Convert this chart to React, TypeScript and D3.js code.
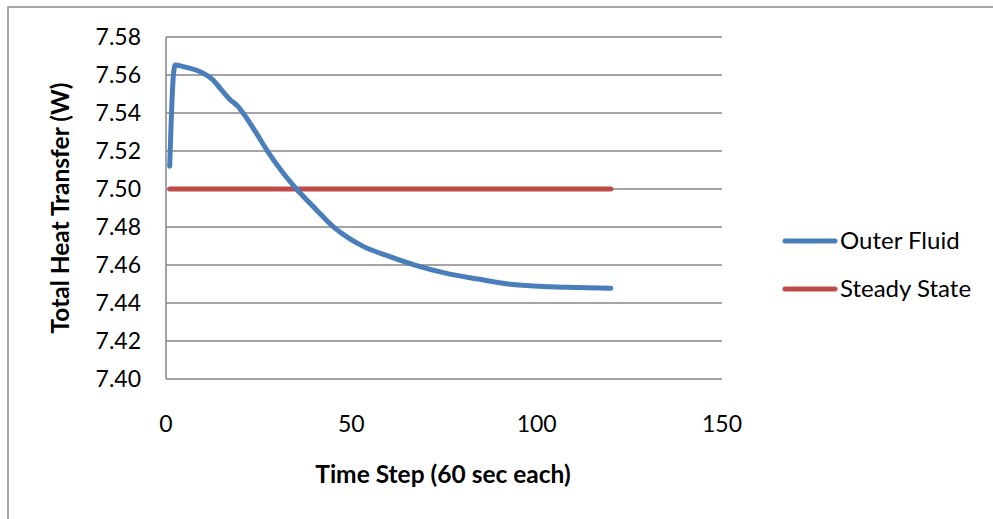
import React from "react";
import * as d3 from "d3";

const timeSteps = [1, 2, 2.5, 4.7, 9.2, 12.7, 14.6, 17.3, 19.4, 21.5, 24.5, 27.2, 31.6, 35.2, 40.6, 45.1, 49, 53.2, 60.4, 67.6, 75.7, 84.2, 93.6, 103.6, 111, 120];
const outerFluid = [7.512, 7.560, 7.5652, 7.5644, 7.5617, 7.5574, 7.553, 7.547, 7.5435, 7.538, 7.529, 7.5205, 7.5084, 7.5, 7.489, 7.4802, 7.4745, 7.4698, 7.4644, 7.4597, 7.4556, 7.4526, 7.4497, 7.4486, 7.4482, 7.4477];
const steadySteps = [1, 120];
const steadyState = [7.5, 7.5];
const yTicks = [7.40, 7.42, 7.44, 7.46, 7.48, 7.50, 7.52, 7.54, 7.56, 7.58];
const xTicks = [0, 50, 100, 150];
const seriesNames = ["Outer Fluid", "Steady State"];
const seriesColors = ["#4a7ebb", "#be4b48"];

const W = 993;
const H = 519;
const FONT = "Lato, 'Open Sans', sans-serif";

export default function App() {
  const x = d3.scaleLinear().domain([0, 150]).range([166, 722]);
  const y = d3.scaleLinear().domain([7.4, 7.58]).range([379, 37]);

  const line = d3
    .line<[number, number]>()
    .x((d) => x(d[0]))
    .y((d) => y(d[1]))
    .curve(d3.curveMonotoneX);

  const blue = line(timeSteps.map((t, i) => [t, outerFluid[i]] as [number, number])) || "";
  const red = line(steadySteps.map((t, i) => [t, steadyState[i]] as [number, number])) || "";

  const grid = "#868686";

  return (
    <svg
      width={W}
      height={H}
      style={{ position: "fixed", left: 0, top: 0, background: "#fff" }}
      fontFamily={FONT}
    >
      <rect x={0} y={0} width={W} height={H} fill="#fff" />
      <rect x={8} y={7} width={W + 20} height={H + 20} fill="none" stroke="#8a8a8a" strokeWidth={1.5} />

      {yTicks.slice(1).map((t) => (
        <line key={t} x1={x(0)} x2={x(150)} y1={y(t)} y2={y(t)} stroke={grid} strokeWidth={1.5} />
      ))}
      <line x1={x(0)} x2={x(0)} y1={y(7.58)} y2={y(7.4)} stroke={grid} strokeWidth={1.5} />
      <line x1={x(0)} x2={x(150)} y1={y(7.4)} y2={y(7.4)} stroke={grid} strokeWidth={1.5} />

      {yTicks.map((t) => (
        <text key={t} x={141} y={y(t)} dy="0.35em" textAnchor="end" fontSize={23} fill="#000">
          {t.toFixed(2)}
        </text>
      ))}
      {xTicks.map((t) => (
        <text key={t} x={x(t)} y={424} dy="0.35em" textAnchor="middle" fontSize={23} fill="#000">
          {t}
        </text>
      ))}

      <path d={red} fill="none" stroke={seriesColors[1]} strokeWidth={5} strokeLinecap="round" />
      <path d={blue} fill="none" stroke={seriesColors[0]} strokeWidth={5} strokeLinecap="round" strokeLinejoin="round" />

      <text x={443} y={474} dy="0.35em" textAnchor="middle" fontSize={24.5} fontWeight="bold" fill="#000">
        Time Step (60 sec each)
      </text>
      <text
        transform={`translate(60,208) rotate(-90)`}
        dy="0.35em"
        textAnchor="middle"
        fontSize={24.5}
        fontWeight="bold"
        fill="#000"
      >
        Total Heat Transfer (W)
      </text>

      {seriesNames.map((n, i) => (
        <g key={n} transform={`translate(0, ${241 + i * 48})`}>
          <line x1={785} x2={835} y1={0} y2={0} stroke={seriesColors[i]} strokeWidth={5} strokeLinecap="round" />
          <text x={840} y={0} dy="0.35em" fontSize={24} fill="#000">
            {n}
          </text>
        </g>
      ))}
    </svg>
  );
}
